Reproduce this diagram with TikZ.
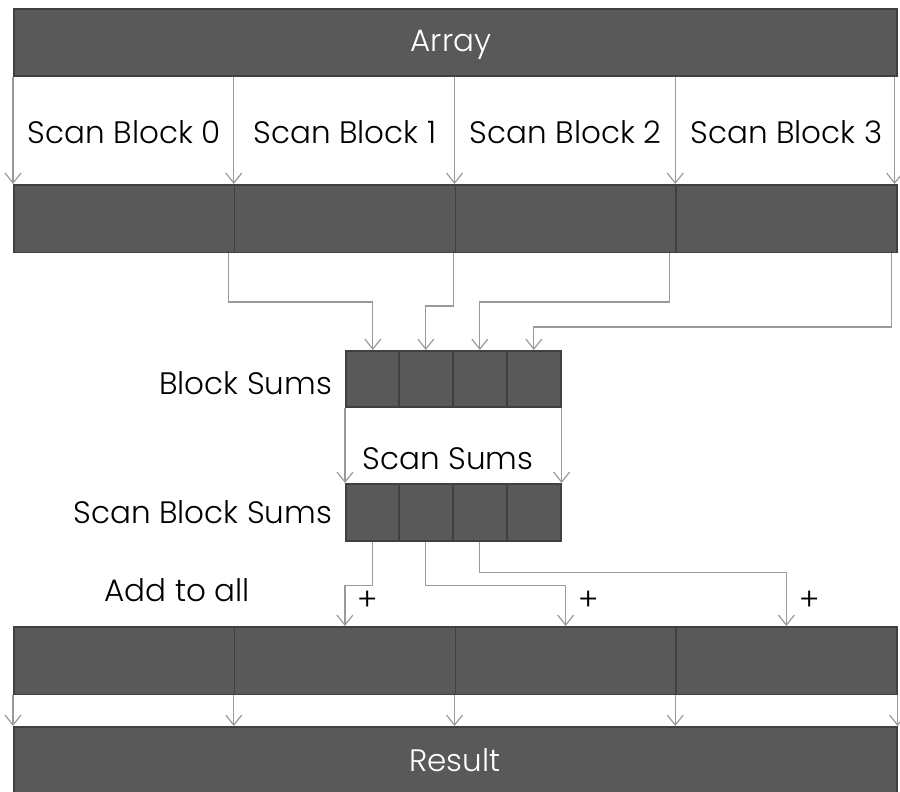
\documentclass[tikz,border=0pt]{standalone}
\usepackage{fontspec}
\setmainfont{Poppins}[UprightFont=* Light]
\usepackage{xcolor}
\usetikzlibrary{positioning,arrows.meta}

\definecolor{barfill}{HTML}{595959}
\definecolor{barline}{HTML}{404040}
\definecolor{wire}{HTML}{9A9A9A}

\begin{document}
\begin{tikzpicture} [
    x=0.5pt, y=-0.5pt,
    bar/.style={rectangle, draw=barline, line width=0.8pt, fill=barfill, inner sep=0pt, anchor=north west},
    cell/.style={bar, minimum width=110.375pt, minimum height=33.75pt},
    small/.style={bar, minimum width=27pt, minimum height=28pt},
    arr/.style={draw=wire, line width=0.6pt, -{Straight Barb[length=5pt, width=8pt]}},
    lbl/.style={font=\fontsize{15.5}{18}\selectfont, text=black},
    wlbl/.style={font=\fontsize{15.5}{18}\selectfont, text=white}
]
\useasboundingbox (0,0) rectangle (900,792);
\clip (0,0) rectangle (900,792);

% Input and output bars
\node[bar, minimum width=441.5pt, minimum height=33.5pt] (array) at (13,8) {};
\node[wlbl] at (451,45) {Array};
\node[bar, minimum width=441.5pt, minimum height=40pt] (result) at (13,726) {};
\node[wlbl] at (455,760) {Result};

% Scanned blocks and the blocks after adding
\foreach \i in {0,...,3} {
    \node[cell] (sb\i) at (13+220.75*\i,184) {};
    \node[cell] (add\i) at (13+220.75*\i,626) {};
}
\foreach \i/\x in {0/345,1/398,2/452,3/506} {
    \node[small] (bs\i) at (\x,350) {};
    \node[small, minimum height=28.5pt] (ss\i) at (\x,483) {};
}

% Array into blocks
\foreach \i in {0,...,3} {
    \draw[arr] (sb\i.north west |- array.south) -- (sb\i.north west);
    \node[lbl] at ([yshift=26pt]sb\i.north) {Scan Block \i};
}
\draw[arr] ([xshift=-1.5pt]sb3.north east |- array.south) -- ([xshift=-1.5pt]sb3.north east);

% Block totals
\draw[arr] ([xshift=-3.5pt]sb0.south east) |- ([yshift=24pt]bs0.north) -- (bs0.north);
\draw[arr] ([xshift=-1.5pt]sb1.south east) |- ([yshift=22pt]bs1.north) -- (bs1.north);
\draw[arr] ([xshift=-3.5pt]sb2.south east) |- ([yshift=24pt]bs2.north) -- (bs2.north);
\draw[arr] ([xshift=-3pt]sb3.south east) |- ([yshift=11.5pt]bs3.north) -- (bs3.north);
\node[lbl, left=3pt of bs0.west, yshift=-2pt] {Block Sums};

% Scan of the totals
\draw[arr] (bs0.south west) -- (ss0.north west);
\draw[arr] (bs3.south east) -- (ss3.north east);
\node[lbl] at (448,459) {Scan Sums};
\node[lbl, left=3pt of ss0.west] {Scan Block Sums};

% Add back to the blocks
\draw[arr] (ss0.south) -- ++(0,44) -| (add1.north);
\draw[arr] (ss1.south) -- ++(0,44) -| (add2.north);
\draw[arr] (ss2.south) -- ++(0,31) -| (add3.north);
\foreach \i in {1,2,3}
    \node[lbl] at ([shift={(11.5pt,12.5pt)}]add\i.north) {+};
\node[lbl] at (177,590) {Add to all};

% Blocks into result
\foreach \i in {0,...,3}
    \draw[arr] (add\i.south west) -- (add\i.south west |- result.north);
\draw[arr] (add3.south east) -- (add3.south east |- result.north);

\end{tikzpicture}
\end{document}
